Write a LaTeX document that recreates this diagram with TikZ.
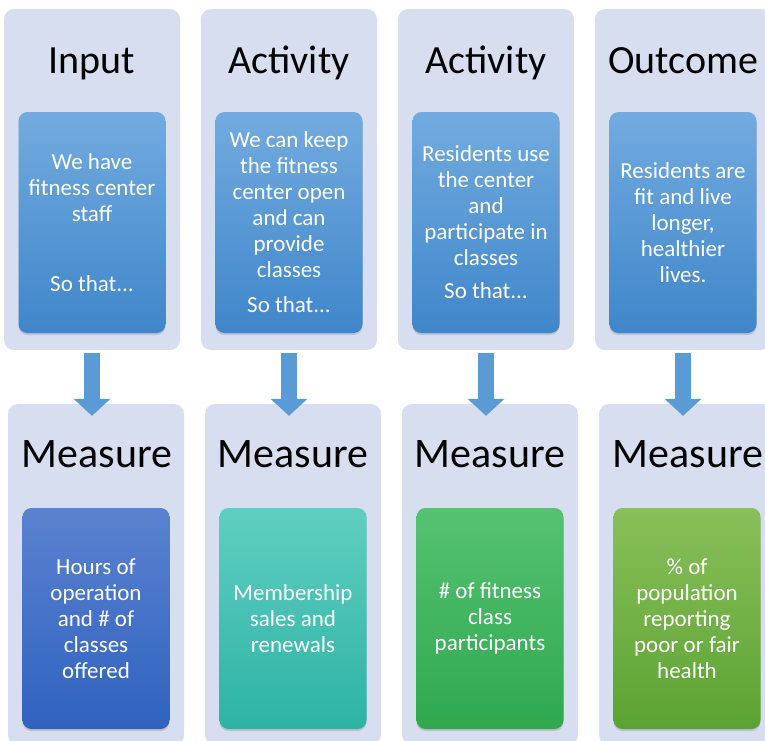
\documentclass[tikz,border=0pt]{standalone}
\usepackage{fontspec}
\setmainfont{Carlito}
\usepackage{tikz}
\usetikzlibrary{arrows.meta,positioning,shadows}
\definecolor{panelbg}{HTML}{D6DEF0}
\definecolor{steptop}{HTML}{72ABDF}
\definecolor{stepbot}{HTML}{3F86CA}
\definecolor{hourstop}{HTML}{5A82D0}
\definecolor{hoursbot}{HTML}{3062C0}
\definecolor{membtop}{HTML}{5FCEC2}
\definecolor{membbot}{HTML}{2DB3A4}
\definecolor{classtop}{HTML}{55C272}
\definecolor{classbot}{HTML}{2FA84E}
\definecolor{healthtop}{HTML}{8ABF5A}
\definecolor{healthbot}{HTML}{5AA332}
\definecolor{arrowblue}{HTML}{5B9BD5}

\begin{document}
\begin{tikzpicture}[x=1pt,y=-1pt,
  panel/.style={fill=panelbg,rounded corners=10pt,minimum width=176pt,
    minimum height=341pt,inner sep=0pt},
  card/.style={rounded corners=9pt,minimum width=147pt,minimum height=221pt,
    inner sep=0pt,text=white,align=center,font=\fontsize{23}{26}\selectfont,
    drop shadow={shadow xshift=0pt,shadow yshift=-2pt,opacity=0.3}},
  heading/.style={anchor=base,font=\fontsize{40}{44}\selectfont},
  flow/.style={line width=16pt,arrowblue,-{Triangle[length=17pt,width=36pt]}}]
  \useasboundingbox (0,0) rectangle (765,740);
  % chain of results
  \node[panel] (p1) at (92,179.5) {};
  \node[panel] (p2) at (289,179.5) {};
  \node[panel] (p3) at (486,179.5) {};
  \node[panel] (p4) at (683,179.5) {};
  \node[heading] (h1) at (92,73) {Input};
  \node[heading] (h2) at (289,73) {Activity};
  \node[heading] (h3) at (486,73) {Activity};
  \node[heading] (h4) at (683,73) {Outcome};
  \node[card,top color=steptop,bottom color=stepbot] (c1) at (92,222.5)
    {We have\\fitness center\\staff\\[44pt]So that...};
  \node[card,top color=steptop,bottom color=stepbot] (c2) at (289,222.5)
    {We can keep\\the fitness\\center open\\and can\\provide\\classes\\[9pt]So that...};
  \node[card,top color=steptop,bottom color=stepbot] (c3) at (486,222.5)
    {Residents use\\the center\\and\\participate in\\classes\\[7pt]So that...};
  \node[card,top color=steptop,bottom color=stepbot] (c4) at (683,222.5)
    {Residents are\\fit and live\\longer,\\healthier\\lives.};
  % measures
  \node[panel] (m1) at (96,574.5) {};
  \node[panel] (m2) at (293,574.5) {};
  \node[panel] (m3) at (490,574.5) {};
  \node[panel] (m4) at (687,574.5) {};
  \foreach \i/\x in {1/97,2/293,3/490,4/688}
    \node[heading,font=\fontsize{42}{46}\selectfont] (mh\i) at (\x,467) {Measure};
  \node[card,top color=hourstop,bottom color=hoursbot] (d1) at (96,618.5)
    {Hours of\\operation\\and \# of\\classes\\offered};
  \node[card,top color=membtop,bottom color=membbot] (d2) at (293,618.5)
    {Membership\\sales and\\renewals};
  \node[card,top color=classtop,bottom color=classbot] (d3) at (490,618.5)
    {\# of fitness\\class\\participants};
  \node[card,top color=healthtop,bottom color=healthbot] (d4) at (687,618.5)
    {\% of\\population\\reporting\\poor or fair\\health};
  \foreach \i in {1,...,4}
    \draw[flow] ([yshift=-3pt]p\i.south) -- ([yshift=-12pt]p\i.south |- m\i.north);
\end{tikzpicture}
\end{document}
